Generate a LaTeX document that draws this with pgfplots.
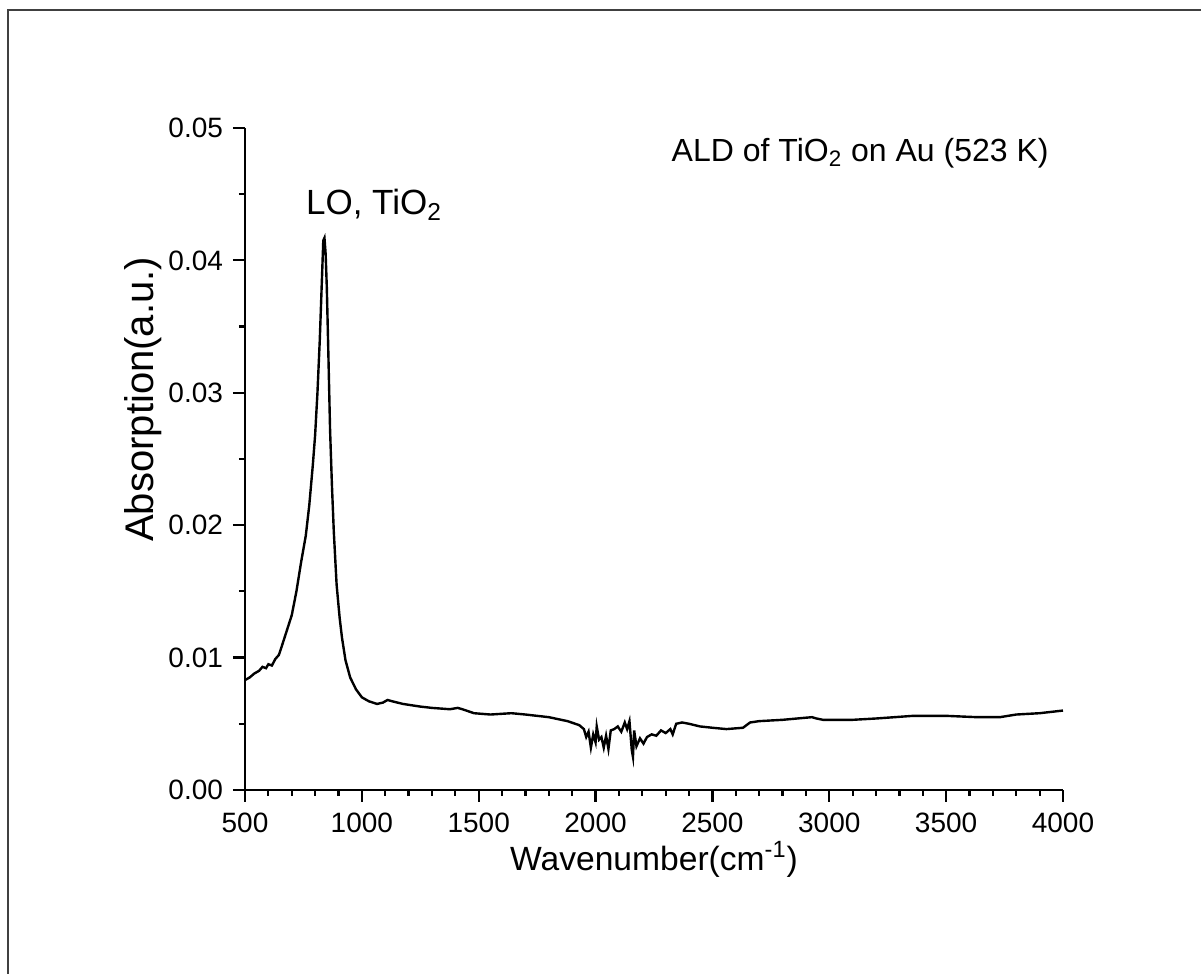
\documentclass[border=0pt]{standalone}
\usepackage{pgfplots}
\pgfplotsset{compat=1.18}
\usepackage{fontspec}
\setmainfont{Liberation Sans}
\begin{document}
\begin{tikzpicture}
\path[use as bounding box] (0,0) rectangle (600.5pt,487pt);
\draw[black!75, line width=0.9pt] (4pt,0) -- (4pt,482pt) -- (600.5pt,482pt);
\begin{axis}[
  at={(122.5pt,92pt)}, anchor=south west,
  scale only axis, width=409pt, height=331pt,
  xmin=500, xmax=4000, ymin=0, ymax=0.05,
  axis x line=bottom, axis y line=left,
  axis line style={-, line width=1.3pt},
  xtick={500,1000,...,4000}, minor x tick num=4,
  ytick={0,0.01,0.02,0.03,0.04,0.05}, minor y tick num=1,
  tick align=outside,
  major tick length=6pt, minor tick length=3pt,
  every tick/.style={black, line width=1.1pt},
  /pgf/number format/assume math mode=true,
  x tick label style={font=\fontsize{14}{16}\selectfont, /pgf/number format/1000 sep={}, yshift=-2pt},
  y tick label style={font=\fontsize{14}{16}\selectfont, /pgf/number format/fixed, /pgf/number format/fixed zerofill, /pgf/number format/precision=2, xshift=-1.5pt},
  scaled y ticks=false,
  xlabel={Wavenumber(cm\textsuperscript{-1})},
  ylabel={Absorption(a.u.)},
  xlabel style={font=\fontsize{16.8}{20}\selectfont, at={(axis description cs:0.5,-0.105)}, anchor=center},
  ylabel style={font=\fontsize{20}{23}\selectfont, at={(axis description cs:-0.124,0.59)}, anchor=center},
  clip=false,
]
\addplot[black, line width=1.2pt] coordinates {
(500,0.0083) (520,0.0085) (540,0.0088) (560,0.0090) (575,0.0093) (590,0.0092) (600,0.0095) (615,0.0094) (630,0.0099) (645,0.0102) (660,0.0110) (680,0.0121) (700,0.0132) (720,0.0150) (740,0.0172) (760,0.0192) (775,0.0215) (790,0.0245) (800,0.0268) (810,0.0300) (820,0.0340) (828,0.0380) (835,0.0415) (840,0.0417) (845,0.0405) (850,0.0380) (856,0.0335) (864,0.0272) (872,0.0230) (880,0.0195) (892,0.0155) (905,0.0130) (915,0.0115) (930,0.0098) (950,0.0085) (975,0.0076) (1000,0.0070) (1030,0.0067) (1065,0.0065) (1090,0.0066) (1110,0.0068) (1130,0.0067) (1176,0.0065) (1250,0.0063) (1300,0.0062) (1377,0.0061) (1410,0.0062) (1430,0.0061) (1480,0.0058) (1550,0.0057) (1640,0.0058) (1700,0.0057) (1800,0.0055) (1880,0.0052) (1930,0.0049)
(1950,0.0046) (1960,0.0040) (1970,0.0044) (1980,0.0032) (1990,0.0042) (2000,0.0036) (2005,0.0048) (2015,0.0038) (2025,0.0040) (2035,0.0032) (2045,0.0041) (2055,0.0031) (2065,0.0045) (2080,0.0046) (2095,0.0048) (2110,0.0044) (2125,0.0051) (2135,0.0046) (2145,0.0052) (2155,0.0030) (2160,0.0025) (2165,0.0045) (2175,0.0033) (2190,0.0039) (2205,0.0035) (2220,0.0040) (2240,0.0042) (2260,0.0041) (2280,0.0045) (2300,0.0043) (2320,0.0046) (2330,0.0042) (2345,0.0050) (2370,0.0051) (2400,0.0050) (2447,0.0048) (2500,0.0047) (2560,0.0046) (2631,0.0047) (2661,0.0051) (2700,0.0052) (2800,0.0053) (2862,0.0054) (2926,0.0055) (2945,0.0054) (2973,0.0053) (3100,0.0053) (3200,0.0054) (3358,0.0056) (3500,0.0056) (3632,0.0055) (3730,0.0055) (3800,0.0057) (3900,0.0058) (4000,0.0060)
};
\node[font=\fontsize{17.5}{20}\selectfont] at (axis cs:1052,0.0442) {LO, TiO\textsubscript{2}};
\node[font=\fontsize{16}{19}\selectfont] at (axis cs:3132,0.0481) {ALD of TiO\textsubscript{2} on Au (523 K)};
\end{axis}
\end{tikzpicture}
\end{document}
